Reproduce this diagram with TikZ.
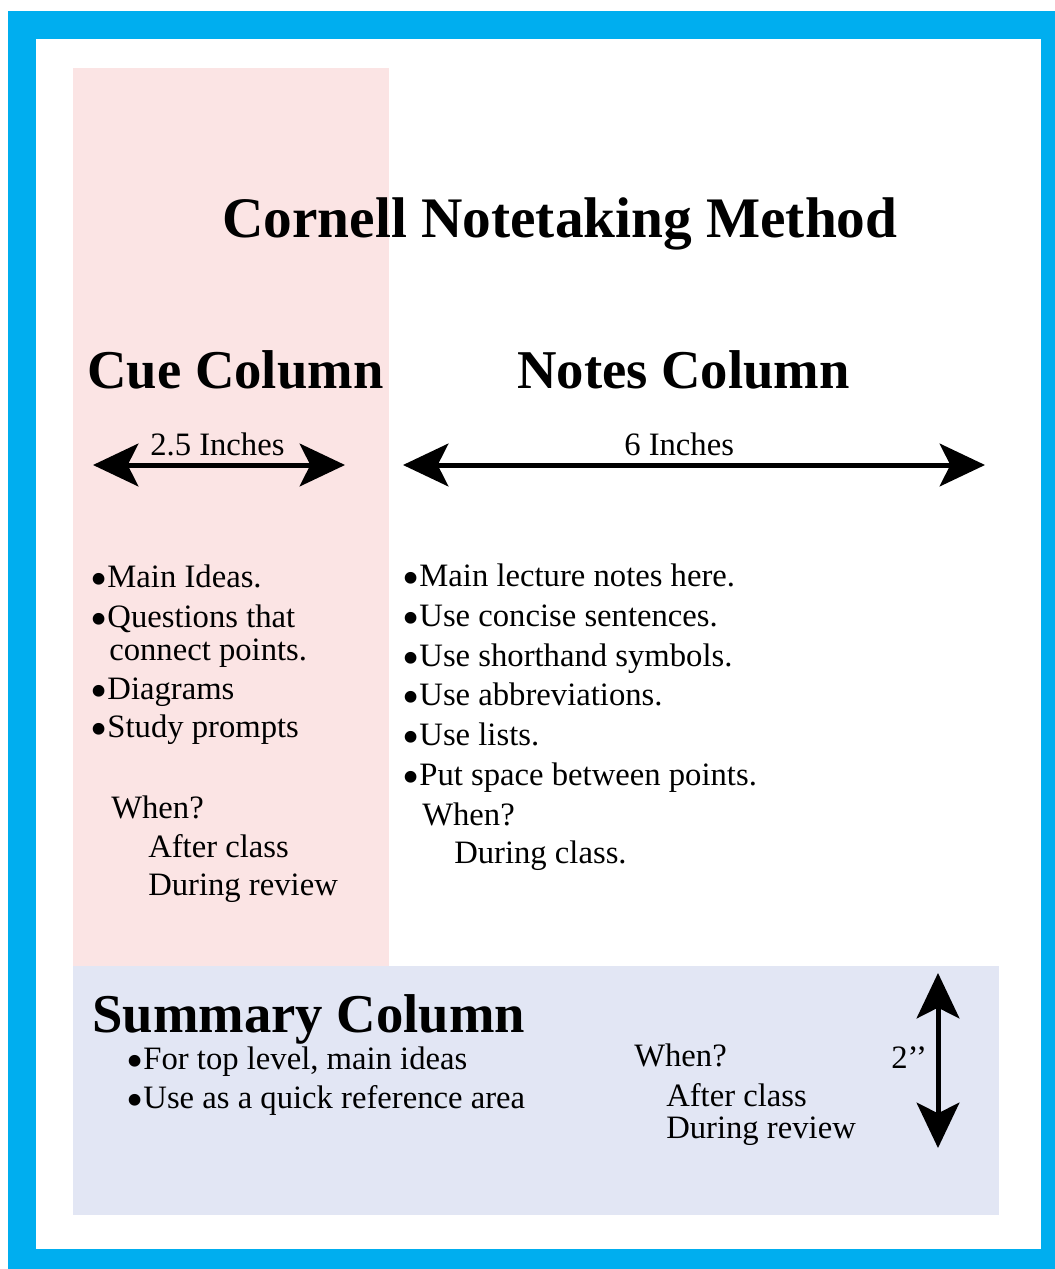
\documentclass[tikz,border=0pt]{standalone}
\usepackage{fontspec}
\setmainfont{Liberation Serif}
\usetikzlibrary{arrows.meta}
\definecolor{frameblue}{RGB}{0,174,239}
\definecolor{cuepink}{RGB}{251,228,228}
\definecolor{sumblue}{RGB}{226,230,244}
\newcommand{\cbul}{\smash{\raisebox{-0.25em}{\scalebox{1.5}{\textbullet}}}}
\tikzset{
  head/.style={font=\fontsize{41}{48}\selectfont\bfseries, inner sep=0pt, anchor=base west},
  body/.style={font=\fontsize{24.5}{30}\selectfont, inner sep=0pt, anchor=base west},
  span/.style={line width=3.75pt, {Stealth[length=34pt,width=32pt,inset=8pt]}-{Stealth[length=34pt,width=32pt,inset=8pt]}}
}
\begin{document}
\begin{tikzpicture}[x=0.75pt, y=-0.75pt]
	\useasboundingbox (0,0) rectangle (1055,1269);
	\fill[frameblue] (8,11) rectangle (1055,1269);
	\fill[white] (36,39) rectangle (1041,1249);
	\fill[cuepink] (73,68) rectangle (389,966);
	\fill[sumblue] (73,966) rectangle (999,1215);

	\node[head, font=\fontsize{43}{48}\selectfont\bfseries] (title) at (222,238) {Cornell Notetaking Method};
	\node[head] (cue) at (87,388) {Cue Column};
	\node[head] (notes) at (517,388) {Notes Column};

	\coordinate (cueL) at (93,465);
	\coordinate (cueR) at (345,465);
	\coordinate (notesL) at (403,465);
	\coordinate (notesR) at (985,465);
	\draw[span] (cueL) -- (cueR);
	\draw[span] (notesL) -- (notesR);
	\node[body] (cuewidth) at (150,455) {2.5 Inches};
	\node[body] (noteswidth) at (624,455) {6 Inches};

	\node[body] (cue1) at (90,587) {\cbul Main Ideas.};
	\node[body] (cue2) at (90,627) {\cbul Questions that};
	\node[body] (cue2b) at (109,660) {connect points.};
	\node[body] (cue3) at (90,699) {\cbul Diagrams};
	\node[body] (cue4) at (90,737) {\cbul Study prompts};
	\node[body] (cuewhen) at (111,818) {When?};
	\node[body] (cueafter) at (148,857) {After class};
	\node[body] (cuereview) at (148,895) {During review};

	\node[body] (notes1) at (402,586) {\cbul Main lecture notes here.};
	\node[body] (notes2) at (402,626) {\cbul Use concise sentences.};
	\node[body] (notes3) at (402,666) {\cbul Use shorthand symbols.};
	\node[body] (notes4) at (402,705) {\cbul Use abbreviations.};
	\node[body] (notes5) at (402,745) {\cbul Use lists.};
	\node[body] (notes6) at (402,785) {\cbul Put space between points.};
	\node[body] (noteswhen) at (422,825) {When?};
	\node[body] (notesduring) at (454,863) {During class.};

	\node[head] (summary) at (92,1032) {Summary Column};
	\node[body] (sum1) at (126,1069) {\cbul For top level, main ideas};
	\node[body] (sum2) at (126,1108) {\cbul Use as a quick reference area};
	\node[body] (sumwhen) at (634,1066) {When?};
	\node[body] (sumafter) at (666,1106) {After class};
	\node[body] (sumreview) at (666,1138) {During review};
	\node[body] (sumheight) at (891,1068) {2’’};

	\coordinate (sumT) at (938,973);
	\coordinate (sumB) at (938,1148);
	\draw[span] (sumT) -- (sumB);
\end{tikzpicture}
\end{document}
